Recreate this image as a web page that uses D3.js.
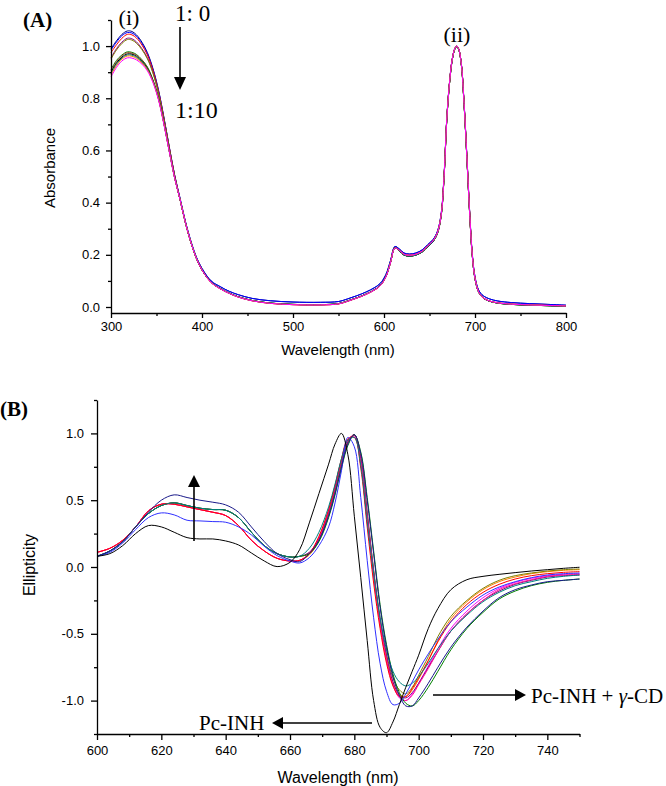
<!DOCTYPE html>
<html><head><meta charset="utf-8">
<script src="https://cdn.jsdelivr.net/npm/d3@7"></script>
<style>
body{margin:0;background:#fff}
.axis text{font-family:"Liberation Sans",Arial,sans-serif;font-size:13px;fill:#000}
.axis path,.axis line{stroke:#000;stroke-width:1.3px}
.ttl{font-family:"Liberation Sans",Arial,sans-serif;fill:#000}
.ser{font-family:"Liberation Serif","Times New Roman",serif;fill:#000}
</style></head>
<body>
<svg id="c" width="666" height="786"></svg>
<script>
// ---------- Panel A : absorbance ----------
const absXTicks = [300,400,500,600,700,800];
const absXMinor = [350,450,550,650,750];
const absYTicks = [0,0.2,0.4,0.6,0.8,1.0];
const absYMinor = [0.1,0.3,0.5,0.7,0.9,1.1];
const absUvWl = [300,306,312,318,323,328,334,340,346,352,358,364,370];
const absTailWl = [376,382,388,394,400,410,420,430,440,455,475,500,530,550,560,570,580,590,596,602,607,612,617,622,628,635,642,648,654,659,663,666,669,672,675,678,680,682,685,688,691,694,697,700,704,709,716,725,740,760,780,800];
const absUv_1_0  = [.99,1.02,1.045,1.058,1.056,1.043,1.015,.975,.915,.835,.73,.615,.505];
const absUv_1_1  = [.985,1.015,1.04,1.052,1.05,1.038,1.01,.971,.912,.832,.728,.613,.504];
const absUv_1_2  = [.975,1.005,1.03,1.045,1.043,1.031,1.004,.966,.908,.829,.726,.612,.503];
const absUv_1_3  = [.955,.99,1.015,1.03,1.028,1.016,.99,.955,.9,.823,.722,.609,.501];
const absUv_1_4  = [.95,.985,1.01,1.025,1.023,1.011,.986,.951,.897,.821,.72,.608,.5];
const absUv_1_5  = [.91,.945,.966,.978,.976,.968,.948,.92,.872,.804,.708,.6,.495];
const absUv_1_6  = [.905,.94,.963,.975,.973,.965,.945,.918,.87,.803,.707,.599,.495];
const absUv_1_7  = [.9,.935,.958,.97,.969,.961,.942,.915,.868,.801,.706,.598,.494];
const absUv_1_8  = [.895,.93,.954,.966,.965,.957,.939,.912,.866,.8,.705,.597,.494];
const absUv_1_9  = [.89,.925,.95,.962,.961,.953,.936,.909,.864,.798,.704,.597,.493];
const absUv_1_10 = [.882,.918,.943,.955,.954,.947,.931,.905,.861,.796,.702,.596,.493];
const absTailHi  = [.415,.325,.25,.19,.148,.1,.078,.06,.047,.033,.024,.019,.018,.021,.031,.043,.057,.075,.091,.124,.176,.232,.222,.207,.203,.207,.219,.239,.259,.293,.363,.505,.722,.862,.951,.992,1.0,.99,.932,.783,.585,.375,.205,.116,.065,.043,.031,.023,.017,.013,.01,.007];
const absTailMid = [.41,.32,.245,.185,.142,.094,.07,.052,.038,.024,.014,.009,.008,.012,.022,.034,.048,.066,.082,.115,.168,.226,.217,.202,.198,.202,.214,.234,.254,.288,.358,.5,.72,.86,.95,.992,1.0,.99,.93,.78,.58,.37,.2,.11,.058,.035,.023,.016,.011,.008,.006,.004];
const absTailLo  = [.41,.32,.245,.185,.142,.095,.071,.053,.039,.025,.015,.01,.009,.013,.023,.035,.049,.067,.083,.116,.169,.227,.215,.199,.195,.199,.211,.231,.251,.285,.355,.497,.717,.857,.947,.99,.998,.988,.928,.776,.576,.366,.197,.108,.057,.034,.022,.015,.01,.007,.005,.003];
const absNames  = ["1:0","1:1","1:2","1:3","1:4","1:5","1:6","1:7","1:8","1:9","1:10"];
const absColors = ["#000080","#0000ff","#ff0000","#800080","#808000","#008000","#a0522d","#000000","#008080","#ff8000","#ff00ff"];
const absUvList = [absUv_1_0,absUv_1_1,absUv_1_2,absUv_1_3,absUv_1_4,absUv_1_5,absUv_1_6,absUv_1_7,absUv_1_8,absUv_1_9,absUv_1_10];
const absTailList = [absTailHi,absTailHi,absTailMid,absTailMid,absTailLo,absTailLo,absTailLo,absTailLo,absTailLo,absTailMid,absTailMid];

// ---------- Panel B : CD ellipticity ----------
const cdXTicks = [600,620,640,660,680,700,720,740];
const cdXMinor = [610,630,650,670,690,710,730,750];
const cdYTicks = [-1.0,-0.5,0.0,0.5,1.0];
const cdYMinor = [-1.25,-0.75,-0.25,0.25,0.75,1.25];
const cdLeftWl  = [600,604,608,612,616,620,624,628,632,636,640,644,648,652,656,660];
const cdRightWl = [663,666,669,672,674,676,678,680,682,684,686,688,690,692,694,696,698,700,703,706,710,715,720,725,730,735,740,745,750];
const cdLeftBlack = [.08,.1,.16,.25,.31,.3,.26,.22,.21,.21,.195,.165,.105,.045,.003,.035];
const cdLeftNavy  = [.08,.12,.19,.3,.41,.5,.54,.52,.5,.485,.465,.41,.3,.19,.1,.055];
const cdLeftBlue  = [.08,.11,.18,.28,.37,.405,.39,.35,.345,.34,.335,.3,.24,.155,.085,.045];
const cdLeftTeal  = [.08,.12,.19,.3,.4,.46,.48,.46,.44,.43,.425,.37,.26,.16,.1,.075];
const cdLeftRed   = [.11,.14,.2,.3,.42,.47,.47,.45,.43,.41,.385,.31,.2,.12,.065,.045];
const cdRightBlack   = [.13,.33,.55,.77,.92,1.0,.84,.38,-.08,-.55,-1.0,-1.2,-1.24,-1.16,-1.03,-.9,-.78,-.66,-.46,-.31,-.17,-.095,-.07,-.055,-.042,-.03,-.02,-.01,-.002];
const cdRightNavy    = [.04,.1,.2,.38,.55,.75,.92,.99,.85,.5,.1,-.3,-.6,-.82,-.96,-1.04,-1.04,-.98,-.87,-.75,-.6,-.45,-.33,-.23,-.17,-.135,-.11,-.1,-.09];
const cdRightBlue    = [.03,.07,.16,.3,.48,.72,.97,.9,.52,.05,-.38,-.72,-.93,-1.03,-1.02,-.95,-.86,-.77,-.65,-.54,-.41,-.3,-.21,-.15,-.11,-.08,-.06,-.05,-.045];
const cdRightTeal    = [.08,.14,.26,.45,.62,.81,.95,.97,.76,.34,-.05,-.38,-.62,-.78,-.86,-.89,-.87,-.82,-.72,-.61,-.48,-.36,-.26,-.19,-.14,-.11,-.085,-.07,-.06];
const cdRightRed     = [.05,.1,.23,.43,.61,.81,.96,.97,.74,.3,-.12,-.46,-.72,-.89,-.97,-.97,-.91,-.83,-.7,-.56,-.41,-.28,-.19,-.13,-.09,-.065,-.05,-.04,-.035];
const cdRightOrange  = [.05,.09,.2,.4,.58,.78,.94,.99,.8,.38,-.04,-.4,-.67,-.86,-.95,-.97,-.92,-.84,-.7,-.55,-.39,-.26,-.17,-.11,-.075,-.05,-.035,-.025,-.02];
const cdRightOlive   = [.08,.1,.2,.39,.57,.77,.93,.99,.82,.41,-.02,-.38,-.65,-.83,-.92,-.95,-.9,-.81,-.67,-.52,-.37,-.25,-.16,-.1,-.065,-.045,-.03,-.02,-.015];
const cdRightMagenta = [.05,.1,.22,.42,.6,.8,.95,.98,.77,.34,-.08,-.43,-.7,-.88,-.98,-1.0,-.95,-.87,-.74,-.61,-.46,-.33,-.23,-.16,-.115,-.085,-.065,-.055,-.05];
const cdRightPurple  = [.08,.11,.21,.41,.59,.79,.94,.99,.81,.4,-.03,-.4,-.67,-.86,-.96,-.98,-.94,-.87,-.75,-.63,-.48,-.35,-.25,-.18,-.13,-.1,-.075,-.065,-.06];
const cdRightPink    = [.05,.1,.22,.42,.6,.8,.95,.985,.79,.37,-.05,-.42,-.69,-.88,-.97,-1.0,-.96,-.88,-.76,-.63,-.48,-.35,-.25,-.17,-.125,-.095,-.07,-.06,-.055];
const cdRightGreen   = [.08,.1,.19,.37,.54,.74,.91,.99,.86,.52,.12,-.28,-.58,-.8,-.94,-1.02,-1.04,-1.0,-.9,-.78,-.62,-.46,-.34,-.24,-.18,-.14,-.115,-.1,-.09];
const cdColors = ["#ff8000","#808000","#ff00ff","#800080","#ff1493","#008000","#ff0000","#008080","#3030ff","#1a1a8a","#000000"];
const cdLeftList  = [cdLeftRed,cdLeftTeal,cdLeftRed,cdLeftTeal,cdLeftRed,cdLeftTeal,cdLeftRed,cdLeftTeal,cdLeftBlue,cdLeftNavy,cdLeftBlack];
const cdRightList = [cdRightOrange,cdRightOlive,cdRightMagenta,cdRightPurple,cdRightPink,cdRightGreen,cdRightRed,cdRightTeal,cdRightBlue,cdRightNavy,cdRightBlack];

const svg = d3.select("#c");
const fmt1 = d => d.toFixed(1);

function axes(xs, ys, xT, xM, yT, yM, xFmt, yAt, xAt, tk, tkm, padX, padY){
  svg.append("g").attr("class","axis").attr("transform",`translate(0,${yAt})`)
    .call(d3.axisBottom(xs).tickValues(xT).tickSize(tk).tickSizeOuter(0).tickPadding(padX).tickFormat(xFmt));
  svg.append("g").attr("class","axis").attr("transform",`translate(0,${yAt})`)
    .call(d3.axisBottom(xs).tickValues(xM).tickSize(tkm).tickSizeOuter(0).tickFormat(""))
    .select(".domain").remove();
  svg.append("g").attr("class","axis").attr("transform",`translate(${xAt},0)`)
    .call(d3.axisLeft(ys).tickValues(yT).tickSize(tk).tickSizeOuter(0).tickPadding(padY).tickFormat(fmt1));
  svg.append("g").attr("class","axis").attr("transform",`translate(${xAt},0)`)
    .call(d3.axisLeft(ys).tickValues(yM).tickSize(tkm).tickSizeOuter(0).tickFormat(""))
    .select(".domain").remove();
}

// Panel A
const xA = d3.scaleLinear().domain([300,800]).range([111,566]);
const yA = d3.scaleLinear().domain([-0.023,1.1]).range([313,20]);
const lineA = d3.line().x(d=>xA(d[0])).y(d=>yA(d[1])).curve(d3.curveCatmullRom.alpha(0.5));
const absWl = absUvWl.concat(absTailWl);
absNames.forEach((n,i)=>{
  const vals = absUvList[i].concat(absTailList[i]);
  svg.append("path").datum(absWl.map((w,j)=>[w,vals[j]]))
    .attr("d",lineA).attr("fill","none").attr("stroke",absColors[i]).attr("stroke-width",1);
});
axes(xA,yA,absXTicks,absXMinor,absYTicks,absYMinor,d3.format("d"),313,111,5,3,4,6);

// Panel B
const xB = d3.scaleLinear().domain([600,750]).range([97,579.5]);
const yB = d3.scaleLinear().domain([-1.25,1.25]).range([734,400]);
const lineB = d3.line().x(d=>xB(d[0])).y(d=>yB(d[1])).curve(d3.curveCatmullRom.alpha(0.5));
const cdWl = cdLeftWl.concat(cdRightWl);
cdColors.forEach((c,i)=>{
  const vals = cdLeftList[i].concat(cdRightList[i]);
  svg.append("path").datum(cdWl.map((w,j)=>[w,vals[j]]))
    .attr("d",lineB).attr("fill","none").attr("stroke",c).attr("stroke-width",1);
});
axes(xB,yB,cdXTicks,cdXMinor,cdYTicks,cdYMinor,d3.format("d"),734,97,6,3,6,7);

// axis titles
svg.append("text").attr("class","ttl").attr("font-size",15).attr("text-anchor","middle")
  .attr("transform","translate(55,168) rotate(-90)").text("Absorbance");
svg.append("text").attr("class","ttl").attr("font-size",15).attr("text-anchor","middle")
  .attr("x",338).attr("y",355).text("Wavelength (nm)");
svg.append("text").attr("class","ttl").attr("font-size",16).attr("text-anchor","middle")
  .attr("transform","translate(35,565) rotate(-90)").text("Ellipticity");
svg.append("text").attr("class","ttl").attr("font-size",16).attr("text-anchor","middle")
  .attr("x",338).attr("y",783).text("Wavelength (nm)");

// annotations
svg.append("text").attr("class","ser").attr("font-size",21).attr("font-weight","bold").attr("x",23).attr("y",27).text("(A)");
svg.append("text").attr("class","ser").attr("font-size",21).attr("font-weight","bold").attr("x",0).attr("y",416).text("(B)");
svg.append("text").attr("class","ser").attr("font-size",22).attr("text-anchor","middle").attr("x",129).attr("y",25).text("(i)");
svg.append("text").attr("class","ser").attr("font-size",22).attr("text-anchor","middle").attr("x",457).attr("y",42).text("(ii)");
svg.append("text").attr("class","ser").attr("font-size",23).attr("x",175).attr("y",21).text("1: 0");
svg.append("text").attr("class","ser").attr("font-size",24).attr("x",175).attr("y",118).text("1:10");
svg.append("text").attr("class","ser").attr("font-size",21).attr("x",199).attr("y",730).text("Pc-INH");
const t2 = svg.append("text").attr("class","ser").attr("font-size",21).attr("x",531).attr("y",703);
t2.append("tspan").text("Pc-INH + ");
t2.append("tspan").attr("font-style","italic").text("γ");
t2.append("tspan").text("-CD");

function arrow(x1,y1,x2,y2,hl,hw){
  const a = Math.atan2(y2-y1,x2-x1), bx = x2-hl*Math.cos(a), by = y2-hl*Math.sin(a);
  svg.append("line").attr("x1",x1).attr("y1",y1).attr("x2",bx).attr("y2",by).attr("stroke","#000").attr("stroke-width",1.6);
  const px = -Math.sin(a)*hw/2, py = Math.cos(a)*hw/2;
  svg.append("path").attr("d",`M${x2},${y2}L${bx+px},${by+py}L${bx-px},${by-py}Z`).attr("fill","#000");
}
arrow(180,27,180,90,13,12);
arrow(194,541,194,475,12,12);
arrow(372,723,272,723,11,12);
arrow(433,695,526,695,11,12);
</script>
</body></html>
